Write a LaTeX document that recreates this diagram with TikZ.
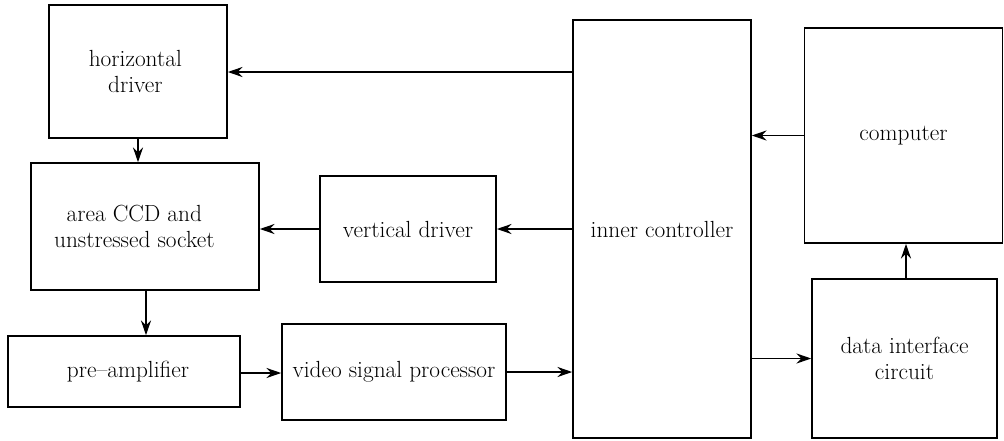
\documentclass[tikz,border=0pt]{standalone}
\usepackage{fontspec}
\usetikzlibrary{arrows.meta}
\begin{document}
\begin{tikzpicture}[x=0.75pt,y=-0.75pt,
  box/.style={draw, line width=1.2pt, rectangle, inner sep=0pt, align=center,
    font=\fontsize{17.5}{19}\selectfont},
  arr/.style={line width=1.2pt, -{Stealth[length=11pt,width=7.5pt,inset=3.5pt]}}]
\useasboundingbox (0,0) rectangle (1004,440);
\node[box, minimum width=133.5pt, minimum height=99.75pt] (hd) at (138,71.5) {\hspace*{-4pt}horizontal\\\hspace*{-4pt}driver};
\node[box, minimum width=171pt, minimum height=95.25pt] (ccd) at (145,226.5) {area CCD and\hspace*{16pt}\\unstressed socket\hspace*{16pt}};
\node[box, minimum width=132pt, minimum height=79.5pt] (vd) at (408,229) {vertical driver};
\node[box, minimum width=174pt, minimum height=53.25pt] (pa) at (124,371.5) {\hspace*{6pt}pre--amplifier};
\node[box, minimum width=168pt, minimum height=72pt] (vsp) at (394,372) {video signal processor};
\node[box, minimum width=133.5pt, minimum height=313.5pt] (ic) at (662,229) {inner controller};
\node[box, minimum width=148.5pt, minimum height=161.25pt] (comp) at (903.5,135.5) {computer};
\node[box, minimum width=138.75pt, minimum height=119.25pt] (dic) at (904.5,358.5) {data interface\\circuit};
\draw[arr] (ic.west |- {(0,72)}) -- (hd.east |- {(0,72)});
\draw[arr] (hd.south) -- (hd.south |- ccd.north);
\draw[arr] (ic.west) -- (vd.east);
\draw[arr] (vd.west) -- (ccd.east |- vd.west);
\draw[arr] (ccd.south -| {(146,0)}) -- (pa.north -| {(146,0)});
\draw[arr] (pa.east |- {(0,373)}) -- (vsp.west |- {(0,373)});
\draw[arr] (vsp.east) -- (ic.west |- vsp.east);
\draw[arr] (comp.west) -- (ic.east |- comp.west);
\draw[arr] (ic.east |- dic.west) -- (dic.west);
\draw[arr] (dic.north -| {(906,0)}) -- (comp.south -| {(906,0)});
\end{tikzpicture}
\end{document}
